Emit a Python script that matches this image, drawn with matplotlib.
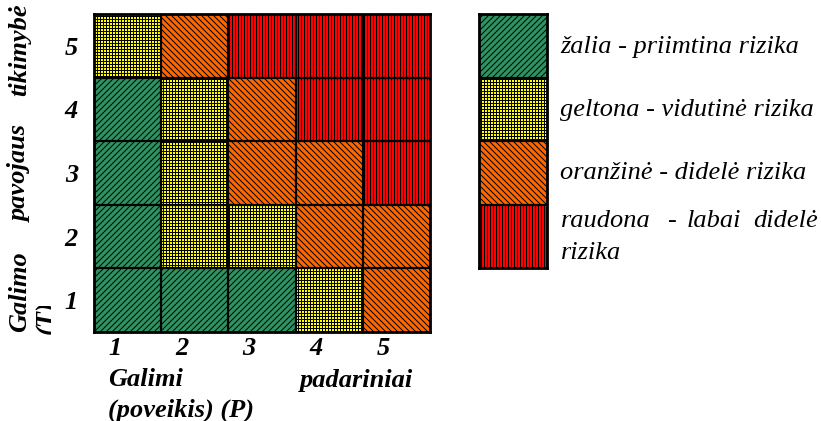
import matplotlib
matplotlib.use("Agg")
import matplotlib.pyplot as plt
from matplotlib.patches import Rectangle
import numpy as np

# ---- data ----
impact_levels = [1, 2, 3, 4, 5]          # Galimi padariniai (P)
prob_levels = [1, 2, 3, 4, 5]            # Galimo pavojaus tikimybė (T)
# risk class per cell, rows = probability 1..5, cols = impact 1..5
# 0 = green, 1 = yellow, 2 = orange, 3 = red
risk_row_1 = [0, 0, 0, 1, 2]
risk_row_2 = [0, 1, 1, 2, 2]
risk_row_3 = [0, 1, 2, 2, 3]
risk_row_4 = [0, 1, 2, 3, 3]
risk_row_5 = [1, 2, 3, 3, 3]
risk_rows = [risk_row_1, risk_row_2, risk_row_3, risk_row_4, risk_row_5]

legend_labels = ["žalia - priimtina rizika",
                 "geltona - vidutinė rizika",
                 "oranžinė - didelė rizika",
                 "raudona - labai didelė rizika"]

# ---- styles ----
face = {0: "#2e9463", 1: "#ffff00", 2: "#ff6600", 3: "#ff0000"}
hatch = {0: "////", 1: "++++", 2: "\\\\\\\\", 3: "||||"}

DPI = 72
plt.rcParams["hatch.linewidth"] = 1.0
W, H = 821, 421
FS = 26.4
BI = dict(family="Liberation Serif", style="italic", weight="bold", size=FS)
IT = dict(family="Liberation Serif", style="italic", size=FS)

fig = plt.figure(figsize=(W / DPI, H / DPI), dpi=DPI)

def fx(px):
    return px / W

def fy(py):
    return 1 - py / H

LW_IN = 2.2
LW_OUT = 2.8

# ---- matrix ----
ax = fig.add_axes([fx(94), fy(332), fx(430) - fx(94), fy(14) - fy(332)])
for p, row in zip(prob_levels, risk_rows):
    bars = ax.bar(impact_levels, 1, bottom=p - 0.5, width=1.0,
                  color=[face[c] for c in row], edgecolor="black", linewidth=0)
    for b, c in zip(bars, row):
        b.set_hatch(hatch[c])
ax.set_xlim(0.5, 5.5)
ax.set_ylim(0.5, 5.5)
for v in np.arange(1.5, 5.5, 1):
    ax.axvline(v, color="black", lw=LW_IN)
    ax.axhline(v, color="black", lw=LW_IN)
for s in ax.spines.values():
    s.set_linewidth(LW_OUT)
ax.set_yticks(prob_levels)
ax.set_yticklabels([str(v) for v in prob_levels], **BI)
ax.tick_params(axis="y", length=0, pad=16)
ax.set_xticks(np.array(impact_levels) - 0.19)
ax.set_xticklabels([str(v) for v in impact_levels], **BI)
ax.tick_params(axis="x", length=0, pad=5)

# ---- y axis label (justified, rotated) ----
fig.text(fx(20), fy(332), "Galimo", rotation=90, ha="center", va="bottom", **BI)
fig.text(fx(20), fy(173), "pavojaus", rotation=90, ha="center", va="center", **BI)
fig.text(fx(20), fy(3), "tikimybė", rotation=90, ha="center", va="top", **BI)
t = fig.text(fx(47), fy(334), "(T)", rotation=90, ha="center", va="bottom", **BI)
# second line of the rotated label box is clipped by the box edges
clip = Rectangle((0, 0), 51, H - 306, transform=None)
t.set_clip_path(clip)

# ---- x axis label ----
fig.text(fx(108), fy(380), "Galimi", ha="left", va="center", **BI)
fig.text(fx(413), fy(380), "padariniai", ha="right", va="center", **BI)
fig.text(fx(108), fy(410), "(poveikis) (P)", ha="left", va="center", **BI)

# ---- legend ----
lax = fig.add_axes([fx(479), fy(268), fx(547) - fx(479), fy(14) - fy(268)])
legend_classes = [0, 1, 2, 3]
lbars = lax.bar([0] * 4, 1, bottom=[3, 2, 1, 0], width=1.0,
                color=[face[c] for c in legend_classes], edgecolor="black", linewidth=0)
for b, c in zip(lbars, legend_classes):
    b.set_hatch(hatch[c])
lax.set_xlim(-0.5, 0.5)
lax.set_ylim(0, 4)
for v in [1, 2, 3]:
    lax.axhline(v, color="black", lw=LW_IN)
for s in lax.spines.values():
    s.set_linewidth(LW_OUT)
lax.set_xticks([])
lax.set_yticks([])

fig.text(fx(560), fy(47), legend_labels[0], ha="left", va="center", **IT)
fig.text(fx(560), fy(110), legend_labels[1], ha="left", va="center", **IT)
fig.text(fx(560), fy(173), legend_labels[2], ha="left", va="center", **IT)
w = legend_labels[3].split()
fig.text(fx(561), fy(221), w[0], ha="left", va="center", **IT)
fig.text(fx(671), fy(221), w[1], ha="center", va="center", **IT)
fig.text(fx(687), fy(221), w[2], ha="left", va="center", **IT)
fig.text(fx(818), fy(221), w[3], ha="right", va="center", **IT)
fig.text(fx(561), fy(253), w[4], ha="left", va="center", **IT)

fig.savefig("out.png", dpi=DPI)
